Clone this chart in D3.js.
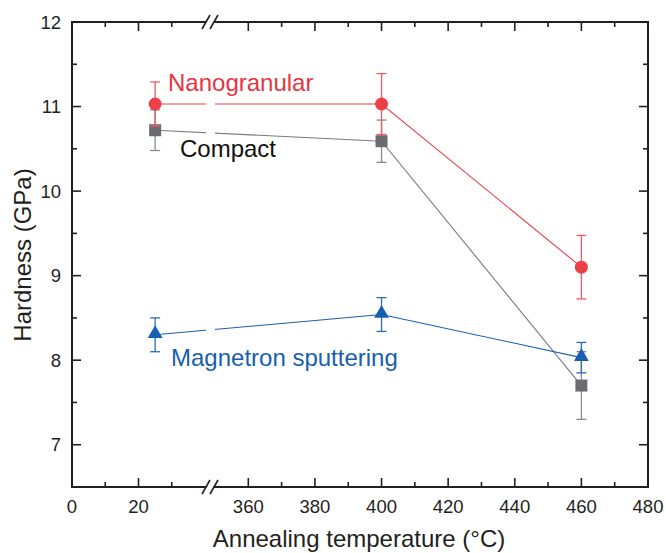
<!DOCTYPE html>
<html>
<head>
<meta charset="utf-8">
<script src="https://cdn.jsdelivr.net/npm/d3@7"></script>
<style>
  html, body { margin: 0; padding: 0; background: #fff; }
  svg { display: block; font-family: "Liberation Sans", Arial, sans-serif; }
</style>
</head>
<body>
<svg id="chart" width="666" height="553"></svg>
<script>
// Annealing temperatures (°C) and hardness (GPa) with standard deviations
const temperatures = [25, 400, 460];

const nanoHardness = [11.03, 11.03, 9.10];
const nanoError    = [0.26, 0.36, 0.375];

const compactHardness = [10.72, 10.59, 7.70];
const compactError    = [0.24, 0.25, 0.40];

const magnetronHardness = [8.30, 8.54, 8.03];
const magnetronError    = [0.20, 0.20, 0.18];

const xTicksMajor = [0, 20, 360, 380, 400, 420, 440, 460, 480];
const xTicksMinor = [10, 30, 370, 390, 410, 430, 450, 470];
const yTicksMajor = [7, 8, 9, 10, 11, 12];
const yTicksMinor = [6.5, 7.5, 8.5, 9.5, 10.5, 11.5];

const seriesNames = ["Nanogranular", "Compact", "Magnetron sputtering"];

const svg = d3.select("#chart");
const plotL = 72, plotR = 648, plotT = 22, plotB = 487;
const breakAt = 210;         // pixel position of the axis break
const breakGap = [206, 215]; // lines are interrupted across the break

// Broken x axis: 0–41.5 on the left segment, 348.5–480 on the right
const x = d3.scaleLinear()
  .domain([0, 41.5, 348.5, 480])
  .range([plotL, breakAt, breakAt, plotR]);
const y = d3.scaleLinear().domain([6.5, 12]).range([plotB, plotT]);

const axisColor = "#231f20";

// Clip paths that leave a gap where the x axis is broken
const defs = svg.append("defs");
const clip = defs.append("clipPath").attr("id", "breakClip");
clip.append("rect").attr("x", 0).attr("y", 0).attr("width", breakGap[0]).attr("height", 553);
clip.append("rect").attr("x", breakGap[1]).attr("y", 0).attr("width", 666 - breakGap[1]).attr("height", 553);

// Frame
const frame = svg.append("g").attr("stroke", axisColor).attr("stroke-width", 2).attr("fill", "none");
frame.append("line").attr("x1", plotL).attr("x2", plotL).attr("y1", plotT - 1).attr("y2", plotB + 1);
frame.append("line").attr("x1", plotR).attr("x2", plotR).attr("y1", plotT - 1).attr("y2", plotB + 1);
[plotT, plotB].forEach(yy => {
  frame.append("line").attr("x1", plotL).attr("x2", breakAt - 4).attr("y1", yy).attr("y2", yy);
  frame.append("line").attr("x1", breakAt + 4).attr("x2", plotR).attr("y1", yy).attr("y2", yy);
  // break marks
  [-4, 4].forEach(dx => {
    frame.append("line")
      .attr("stroke-width", 1.6)
      .attr("x1", breakAt + dx - 4).attr("y1", yy + 7)
      .attr("x2", breakAt + dx + 4).attr("y2", yy - 7);
  });
});

// Inward ticks on all four sides
const ticks = svg.append("g").attr("stroke", axisColor).attr("stroke-width", 1.6);
xTicksMajor.forEach(t => {
  ticks.append("line").attr("x1", x(t)).attr("x2", x(t)).attr("y1", plotB).attr("y2", plotB - 9);
  ticks.append("line").attr("x1", x(t)).attr("x2", x(t)).attr("y1", plotT).attr("y2", plotT + 9);
});
xTicksMinor.forEach(t => {
  ticks.append("line").attr("x1", x(t)).attr("x2", x(t)).attr("y1", plotB).attr("y2", plotB - 5);
  ticks.append("line").attr("x1", x(t)).attr("x2", x(t)).attr("y1", plotT).attr("y2", plotT + 5);
});
yTicksMajor.forEach(t => {
  ticks.append("line").attr("x1", plotL).attr("x2", plotL + 9).attr("y1", y(t)).attr("y2", y(t));
  ticks.append("line").attr("x1", plotR).attr("x2", plotR - 9).attr("y1", y(t)).attr("y2", y(t));
});
yTicksMinor.forEach(t => {
  ticks.append("line").attr("x1", plotL).attr("x2", plotL + 5).attr("y1", y(t)).attr("y2", y(t));
  ticks.append("line").attr("x1", plotR).attr("x2", plotR - 5).attr("y1", y(t)).attr("y2", y(t));
});

// Tick labels
svg.append("g").selectAll("text").data(xTicksMajor).join("text")
  .attr("x", d => x(d)).attr("y", 513)
  .attr("text-anchor", "middle").attr("font-size", 18.5).attr("fill", axisColor)
  .text(d => d);
svg.append("g").selectAll("text").data(yTicksMajor).join("text")
  .attr("x", 61).attr("y", d => y(d) + 6.5)
  .attr("text-anchor", "end").attr("font-size", 18.5).attr("fill", axisColor)
  .text(d => d);

// Axis titles
svg.append("text")
  .attr("x", 359).attr("y", 547)
  .attr("text-anchor", "middle").attr("font-size", 24).attr("fill", axisColor)
  .text("Annealing temperature (°C)");
svg.append("text")
  .attr("transform", "translate(31,255) rotate(-90)")
  .attr("text-anchor", "middle").attr("font-size", 24).attr("fill", axisColor)
  .text("Hardness (GPa)");

// Series
const series = [
  { name: seriesNames[1], values: compactHardness, errors: compactError,
    line: "#7a7a7c", marker: "#6b6c70", err: "#8a8a8c", shape: "square" },
  { name: seriesNames[0], values: nanoHardness, errors: nanoError,
    line: "#ee3e48", marker: "#ec4049", err: "#ef5a62", shape: "circle" },
  { name: seriesNames[2], values: magnetronHardness, errors: magnetronError,
    line: "#1a5fad", marker: "#195faf", err: "#2a6cb5", shape: "triangle" },
];

const lineGen = d3.line().x((d, i) => x(temperatures[i])).y(d => y(d));

series.forEach(s => {
  const g = svg.append("g");
  g.append("path")
    .datum(s.values)
    .attr("d", lineGen)
    .attr("fill", "none")
    .attr("stroke", s.line)
    .attr("stroke-width", 1.1)
    .attr("clip-path", "url(#breakClip)");

  // Error bars
  s.values.forEach((v, i) => {
    const cx = x(temperatures[i]);
    const e = s.errors[i];
    g.append("line").attr("x1", cx).attr("x2", cx)
      .attr("y1", y(v + e)).attr("y2", y(v - e))
      .attr("stroke", s.err).attr("stroke-width", 1.3);
    [v + e, v - e].forEach(c => {
      g.append("line").attr("x1", cx - 5).attr("x2", cx + 5)
        .attr("y1", y(c)).attr("y2", y(c))
        .attr("stroke", s.err).attr("stroke-width", 1.3);
    });
  });

  // Markers
  s.values.forEach((v, i) => {
    const cx = x(temperatures[i]), cy = y(v);
    if (s.shape === "circle") {
      g.append("circle").attr("cx", cx).attr("cy", cy).attr("r", 6.5).attr("fill", s.marker);
    } else if (s.shape === "square") {
      g.append("rect").attr("x", cx - 6).attr("y", cy - 6).attr("width", 12).attr("height", 12).attr("fill", s.marker);
    } else {
      g.append("path")
        .attr("d", d3.symbol().type(d3.symbolTriangle).size(95)())
        .attr("transform", `translate(${cx},${cy - 1})`)
        .attr("fill", s.marker);
    }
  });
});

// Series labels
svg.append("text").attr("x", 168).attr("y", 91).attr("font-size", 24)
  .attr("fill", "#e8343f").text(seriesNames[0]);
svg.append("text").attr("x", 180).attr("y", 157).attr("font-size", 24)
  .attr("fill", "#111").text(seriesNames[1]);
svg.append("text").attr("x", 171).attr("y", 366).attr("font-size", 24)
  .attr("fill", "#1a5fad").text(seriesNames[2]);
</script>
</body>
</html>
